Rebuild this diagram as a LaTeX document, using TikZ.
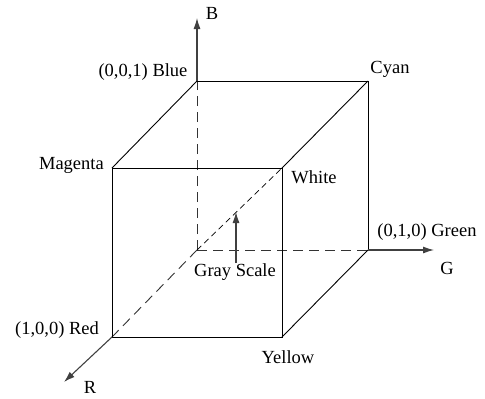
\documentclass[tikz,border=0pt]{standalone}
\usepackage{fontspec}
\setmainfont{Liberation Serif}
\usetikzlibrary{arrows.meta}
\begin{document}
\begin{tikzpicture}[x=1pt,y=-1pt,
  edge/.style={draw=black,line width=0.9pt},
  axis/.style={draw=black!75,line width=1.1pt,-{Latex[length=11pt,width=7pt]}},
  hidden/.style={draw=black!80,line width=0.9pt,dash pattern=on 10pt off 6pt},
  diag/.style={draw=black,line width=0.7pt,dash pattern=on 6pt off 4pt},
  lbl/.style={font=\fontsize{18.5}{20}\selectfont,inner sep=0pt}]
\useasboundingbox (0,0) rectangle (485,399);
% corners
\coordinate (O) at (197,250);
\coordinate (Bl) at (197,81);
\coordinate (Cy) at (368,81);
\coordinate (Gr) at (368,250);
\coordinate (Ma) at (112,168);
\coordinate (Wh) at (282,168);
\coordinate (Re) at (112,337);
\coordinate (Ye) at (282,337);
\coordinate (Btip) at (197,18);
\coordinate (Gtip) at (434,250);
\coordinate (Rtip) at (64,382);
\coordinate (GSa) at (236,263);
\coordinate (GSb) at (236,212);
% hidden edges
\draw[hidden] (O) -- (Bl);
\draw[hidden] (O) -- (Gr);
\draw[hidden] (O) -- (Re);
\draw[diag] (O) -- (Wh);
% visible edges
\draw[edge] (Ma) -- (Wh) -- (Ye) -- (Re) -- cycle;
\draw[edge] (Bl) -- (Cy) -- (Gr);
\draw[edge] (Ma) -- (Bl);
\draw[edge] (Wh) -- (Cy);
\draw[edge] (Ye) -- (Gr);
% axes
\draw[axis] (Bl) -- (Btip);
\draw[axis] (Gr) -- (Gtip);
\draw[axis] (Re) -- (Rtip);
\draw[axis] (GSa) -- (GSb);
% labels
\node[lbl] (lB) at (212,13) {B};
\node[lbl] (lBlue) at (143,72) {(0,0,1) Blue};
\node[lbl] (lCyan) at (390,69) {Cyan};
\node[lbl,anchor=east] (lMag) at (104,165) {Magenta};
\node[lbl] (lWhite) at (314,177) {White};
\node[lbl] (lGreen) at (427,232) {(0,1,0) Green};
\node[lbl] (lG) at (447,268) {G};
\node[lbl] (lGray) at (235,272) {Gray Scale};
\node[lbl] (lRed) at (57,330) {(1,0,0) Red};
\node[lbl] (lR) at (90,387) {R};
\node[lbl] (lYellow) at (288,357) {Yellow};
\end{tikzpicture}
\end{document}
